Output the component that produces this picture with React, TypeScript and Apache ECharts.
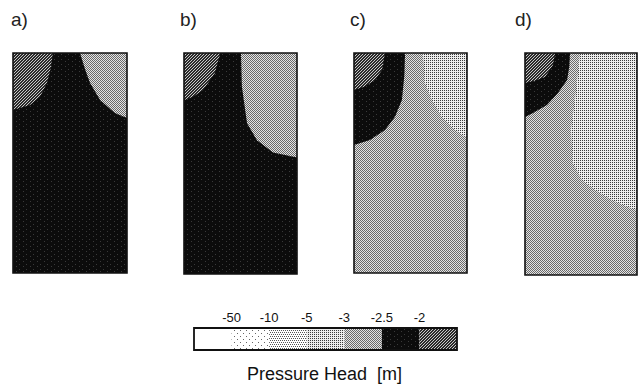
import React, { useEffect, useRef } from "react";
import * as echarts from "echarts";

// Pressure-head classes, from driest to wettest
const levelNames = ["< -50", "-50 to -10", "-10 to -5", "-5 to -3", "-3 to -2.5", "-2.5 to -2", "> -2"];
const tickLabels = ["-50", "-10", "-5", "-3", "-2.5", "-2"];
const panelLabels = ["a)", "b)", "c)", "d)"];

// Domain of each panel: x = 0..50 (width), z = 0..100 (depth, downwards)
const domainRect = [[0, 0], [50, 0], [50, 100], [0, 100]];

// Panel a
const lightA = [[29.4, 0], [31.5, 7], [33.8, 13.6], [38.2, 21.4], [44.7, 27.3], [50, 29.5], [50, 0]];
const hatchA = [[17.5, 0], [16.5, 7], [14.9, 13.6], [11.8, 20], [7.5, 23.6], [0, 25.9], [0, 0]];

// Panel b
const lightB = [[25.2, 0], [25.6, 15], [27.9, 31.8], [32.3, 39.5], [39.4, 45], [50, 47.3], [50, 0]];
const hatchB = [[16, 0], [13.7, 9], [8.4, 16.8], [4, 19.8], [0, 21.4], [0, 0]];

// Panel c
const lighterC = [[30.5, 0], [31.4, 13.6], [34.5, 21.4], [38.9, 29.1], [44.7, 35], [50, 38.6], [50, 0]];
const blackC = [[22.6, 0], [22.3, 10], [21.2, 21.4], [18.1, 29.1], [13.7, 35], [7.1, 39.5], [0, 41.8], [0, 0]];
const hatchC = [[13.7, 0], [12.4, 7.7], [9.3, 12.3], [4.5, 15.3], [0, 16.8], [0, 0]];

// Panel d
const lighterD = [[24.6, 0], [22.3, 21.2], [20.5, 34.7], [21.4, 49.5], [25.4, 57.2], [31.3, 61.7], [38.8, 66.2], [46, 69.4], [50, 70.7], [50, 0]];
const blackD = [[20.1, 0], [19.8, 6], [18.8, 12.2], [14.7, 18], [9.8, 23.4], [3.6, 27], [0, 28.8], [0, 0]];
const hatchD = [[13.4, 0], [12.5, 5.4], [9, 10.8], [4, 12.6], [0, 13.5], [0, 0]];

type Region = { level: number; pts: number[][] };

const panels: Region[][] = [
  [{ level: 5, pts: domainRect }, { level: 4, pts: lightA }, { level: 6, pts: hatchA }],
  [{ level: 5, pts: domainRect }, { level: 4, pts: lightB }, { level: 6, pts: hatchB }],
  [{ level: 4, pts: domainRect }, { level: 3, pts: lighterC }, { level: 5, pts: blackC }, { level: 6, pts: hatchC }],
  [{ level: 4, pts: domainRect }, { level: 3, pts: lighterD }, { level: 5, pts: blackD }, { level: 6, pts: hatchD }],
];

const panelBoxes = [
  { left: 13, top: 53, width: 114, height: 220 },
  { left: 184, top: 53, width: 113, height: 221 },
  { left: 354, top: 53, width: 113, height: 220 },
  { left: 525, top: 53, width: 112, height: 222 },
];
const labelLeft = [11, 180, 350, 515];

function makePattern(w: number, h: number, bg: string, dots: number[][], dotColor: string) {
  const c = document.createElement("canvas");
  c.width = w;
  c.height = h;
  const ctx = c.getContext("2d")!;
  ctx.fillStyle = bg;
  ctx.fillRect(0, 0, w, h);
  ctx.fillStyle = dotColor;
  dots.forEach(([x, y]) => ctx.fillRect(x, y, 1, 1));
  return { image: c, repeat: "repeat" } as any;
}

function buildFills() {
  return [
    "#ffffff",
    makePattern(6, 6, "#ffffff", [[0, 0], [3, 3]], "#666666"),
    makePattern(4, 4, "#ffffff", [[0, 0], [2, 0], [1, 2], [3, 2]], "#555555"),
    makePattern(2, 2, "#ececec", [[0, 0]], "#3a3a3a"),
    makePattern(2, 2, "#e4e4e4", [[0, 0], [1, 1]], "#6a6a6a"),
    makePattern(7, 5, "#0c0c0c", [[2, 1], [5, 4]], "#3a3a3a"),
    makePattern(3, 3, "#2a2a2a", [[2, 0], [1, 1], [0, 2]], "#c8c8c8"),
  ];
}

export default function App() {
  const ref = useRef<HTMLDivElement>(null);

  useEffect(() => {
    document.body.style.margin = "0";
    if (!ref.current) return;
    const chart = echarts.init(ref.current, undefined, { renderer: "svg" });
    const fills = buildFills();
    const font = "'Liberation Sans', Arial, sans-serif";

    const panelSeries = panels.map((regions, i) => ({
      type: "custom",
      xAxisIndex: i,
      yAxisIndex: i,
      clip: false,
      data: [...regions.map((r, j) => [j, r.level]), [regions.length, -1]],
      renderItem: (params: any, api: any) => {
        const r = regions[params.dataIndex];
        if (!r) {
          const p0 = api.coord([0, 0]);
          const p1 = api.coord([50, 100]);
          return {
            type: "rect",
            shape: { x: p0[0], y: p0[1], width: p1[0] - p0[0], height: p1[1] - p0[1] },
            style: { fill: "none", stroke: "#111", lineWidth: 1.6 },
            z2: 10,
          };
        }
        return {
          type: "polygon",
          shape: { points: r.pts.map((p) => api.coord(p)) },
          style: { fill: fills[r.level], stroke: "none" },
        };
      },
    }));

    const barIndex = panels.length;
    const colorbarSeries = {
      type: "custom",
      xAxisIndex: barIndex,
      yAxisIndex: barIndex,
      clip: false,
      data: [...levelNames.map((_, i) => [i, i + 1]), [0, levelNames.length]],
      renderItem: (params: any, api: any) => {
        const isFrame = params.dataIndex === levelNames.length;
        const a = api.coord([api.value(0), 0]);
        const b = api.coord([api.value(1), 1]);
        return {
          type: "rect",
          shape: { x: a[0], y: b[1], width: b[0] - a[0], height: a[1] - b[1] },
          style: isFrame
            ? { fill: "none", stroke: "#111", lineWidth: 1.8 }
            : { fill: fills[params.dataIndex], stroke: "none" },
          z2: isFrame ? 10 : 0,
        };
      },
    };

    chart.setOption({
      animation: false,
      backgroundColor: "#ffffff",
      title: [
        ...panelLabels.map((t, i) => ({
          text: t,
          left: labelLeft[i],
          top: 10,
          padding: 0,
          textStyle: { fontSize: 19, fontWeight: "normal", color: "#222", fontFamily: "'Liberation Sans Narrow', " + font },
        })),
        {
          text: "Pressure Head  [m]",
          left: 247,
          top: 365,
          padding: 0,
          textStyle: { fontSize: 18, fontWeight: "normal", color: "#111", fontFamily: font },
        },
      ],
      grid: [
        ...panelBoxes.map((b) => ({ ...b, show: false })),
        { left: 194, top: 328, width: 263, height: 22, show: false },
      ],
      xAxis: [
        ...panels.map((_, i) => ({ gridIndex: i, type: "value", min: 0, max: 50, show: false })),
        {
          gridIndex: barIndex,
          type: "value",
          min: 0,
          max: levelNames.length,
          interval: 1,
          position: "top",
          axisLine: { show: false },
          axisTick: { show: false },
          splitLine: { show: false },
          axisLabel: {
            margin: 4,
            fontSize: 13,
            color: "#111",
            fontFamily: "'Liberation Sans Narrow', " + font,
            formatter: (v: number) => tickLabels[v - 1] ?? "",
          },
        },
      ],
      yAxis: [
        ...panels.map((_, i) => ({ gridIndex: i, type: "value", min: 0, max: 100, inverse: true, show: false })),
        { gridIndex: barIndex, type: "value", min: 0, max: 1, show: false },
      ],
      series: [...panelSeries, colorbarSeries],
    } as any);

    return () => chart.dispose();
  }, []);

  return <div ref={ref} style={{ width: 641, height: 387 }} />;
}
